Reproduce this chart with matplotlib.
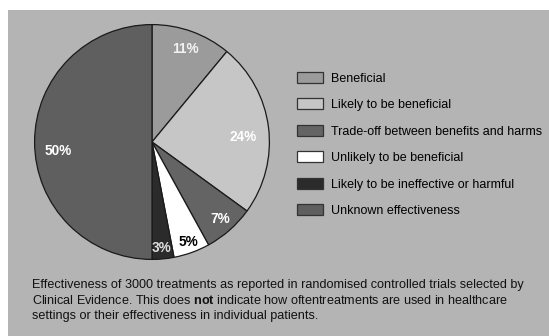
import numpy as np
import matplotlib
matplotlib.use('Agg')
import matplotlib.pyplot as plt
from matplotlib.patches import Rectangle

plt.rcParams['font.family'] = 'Liberation Sans'
plt.rcParams['mathtext.fontset'] = 'custom'
plt.rcParams['mathtext.rm'] = 'Liberation Sans'
plt.rcParams['mathtext.bf'] = 'Liberation Sans:bold'

# données
categories = ['Beneficial', 'Likely to be beneficial', 'Trade-off between benefits and harms',
              'Unlikely to be beneficial', 'Likely to be ineffective or harmful',
              'Unknown effectiveness']
values = [11, 24, 7, 5, 3, 50]
colors = ['#9b9b9b', '#c6c6c6', '#646464', '#ffffff', '#2b2b2b', '#5f5f5f']
label_colors = ['#f2f2f2', 'white', 'white', 'black', '#dddddd', 'white']
label_dist = [0.84, 0.77, 0.87, 0.90, 0.90, 0.80]
label_shift = [0, -4, 0, 0, 0, 5.5]   # décalage angulaire des étiquettes (degrés)

W, H = 549, 336
fig = plt.figure(figsize=(W / 100, H / 100), dpi=100, facecolor='white')

# fond gris
fig.patches.append(Rectangle((8 / W, 0), 1 - 8 / W, (H - 10) / H, transform=fig.transFigure,
                             facecolor='#b4b4b4', edgecolor='none', zorder=-10))

cx, cy, r = 152, H - 142, 118
ax = fig.add_axes([(cx - r) / W, (cy - r) / H, 2 * r / W, 2 * r / H])

wedges, _ = ax.pie(values, colors=colors, startangle=90, counterclock=False, radius=0.995,
                   wedgeprops=dict(edgecolor='#1a1a1a', linewidth=0.9))
ax.set_xlim(-1.0, 1.0)
ax.set_ylim(-1.0, 1.0)
ax.axis('off')

for w, v, c, d, s in zip(wedges, values, label_colors, label_dist, label_shift):
    ang = np.deg2rad((w.theta1 + w.theta2) / 2 + s)
    ax.text(d * np.cos(ang), d * np.sin(ang), '{}%'.format(v), color=c,
            fontsize=9.8, fontweight='bold', ha='center', va='center')

leg = fig.legend(wedges, categories, loc='upper left', bbox_to_anchor=(297 / W, 1 - 72 / H),
                 frameon=False, fontsize=9, handlelength=2.1, handleheight=0.96,
                 labelspacing=1.1, handletextpad=0.64, borderpad=0, borderaxespad=0)
for h in leg.legend_handles:
    h.set_edgecolor('#333333')

# légende du graphique
caption = ['Effectiveness of 3000 treatments as reported in randomised controlled trials selected by',
           r'Clinical Evidence. This does $\mathbf{not}$ indicate how oftentreatments are used in healthcare',
           'settings or their effectiveness in individual patients.']
for i, line in enumerate(caption):
    fig.text(32 / W, 1 - (288 + 15.5 * i) / H, line, fontsize=9.05, va='baseline', ha='left',
             color='#111111')

fig.savefig('out.png', dpi=100, facecolor=fig.get_facecolor())
